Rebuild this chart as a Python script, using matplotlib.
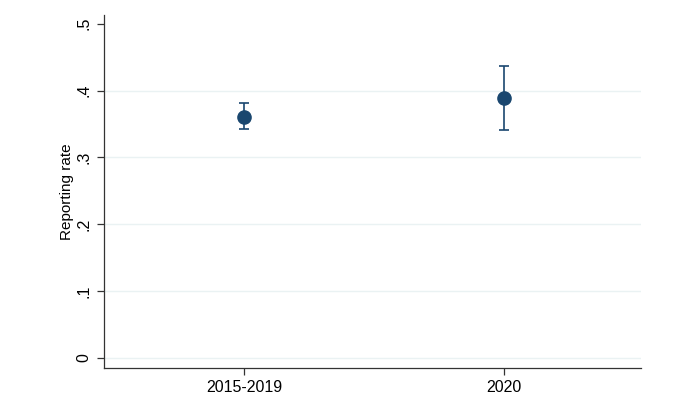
import matplotlib.pyplot as plt

plt.rcParams['font.family'] = ['Liberation Sans', 'DejaVu Sans']

periods = ["2015-2019", "2020"]
rate = [0.361, 0.389]
ci_low = [0.342, 0.341]
ci_high = [0.381, 0.437]
yticks = [0, 0.1, 0.2, 0.3, 0.4, 0.5]
ytick_labels = ["0", ".1", ".2", ".3", ".4", ".5"]

navy = "#1a476f"
x = [1, 2]
err = [[r - lo for r, lo in zip(rate, ci_low)],
       [hi - r for r, hi in zip(rate, ci_high)]]

fig = plt.figure(figsize=(6.8, 3.94), dpi=100)
ax = fig.add_axes([0.153, 0.066, 0.79, 0.896])

# light Stata-style grid, none on the top tick
for t in yticks[:-1]:
    ax.axhline(t, color="#eaf2f3", lw=1.0, zorder=0)

ax.errorbar(x, rate, yerr=err, fmt="o", color=navy, ecolor=navy,
            markersize=9.5, elinewidth=1.2, capsize=3.6, capthick=1.2, zorder=3)

ax.set_xlim(0.462, 2.527)
ax.set_ylim(-0.015, 0.513)
ax.set_xticks(x)
ax.set_xticklabels(periods, fontsize=11.5)
ax.set_yticks(yticks)
ax.set_yticklabels(ytick_labels, fontsize=11.5, rotation=90, va="center")
ax.set_ylabel("Reporting rate", fontsize=11, labelpad=2)

for s in ["top", "right"]:
    ax.spines[s].set_visible(False)
for s in ["left", "bottom"]:
    ax.spines[s].set_color("#333333")
    ax.spines[s].set_linewidth(0.9)
ax.tick_params(axis="both", length=5, width=0.9, color="#333333", pad=4)

fig.savefig("out.png", dpi=100)
